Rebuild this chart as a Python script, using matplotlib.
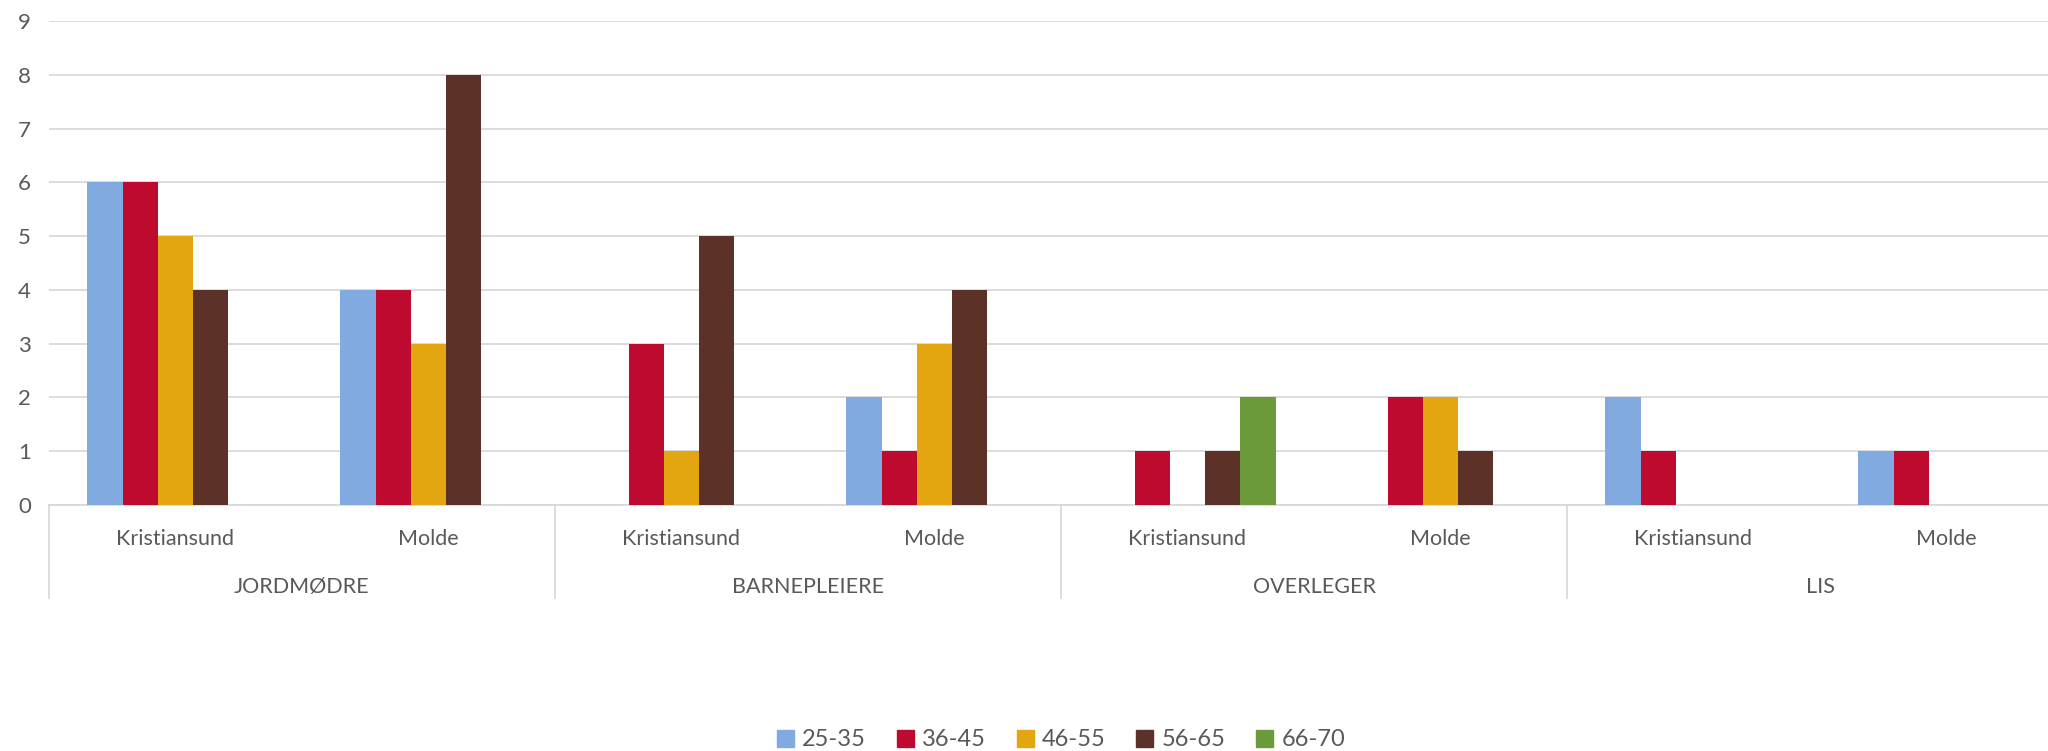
import matplotlib.pyplot as plt
import numpy as np
from matplotlib.patches import Patch

plt.rcParams['font.family'] = ['Lato', 'DejaVu Sans']

groups = ['JORDMØDRE', 'BARNEPLEIERE', 'OVERLEGER', 'LIS']
places = ['Kristiansund', 'Molde']
series = ['25-35', '36-45', '46-55', '56-65', '66-70']

# en verdi per (gruppe, sted): JK, JM, BK, BM, OK, OM, LK, LM
v_25_35 = [6, 4, 0, 2, 0, 0, 2, 1]
v_36_45 = [6, 4, 3, 1, 1, 2, 1, 1]
v_46_55 = [5, 3, 1, 3, 0, 2, 0, 0]
v_56_65 = [4, 8, 5, 4, 1, 1, 0, 0]
v_66_70 = [0, 0, 0, 0, 2, 0, 0, 0]
values = [v_25_35, v_36_45, v_46_55, v_56_65, v_66_70]

colors = ['#80AAE0', '#BE0A2E', '#E3A611', '#5C3128', '#6A9A3A']
grid_c = '#D9D9D9'
txt_c = '#595959'

W, H = 2048, 751
fig = plt.figure(figsize=(W / 100, H / 100), dpi=100)
# akseomraadet gaar litt forbi hoyre kant, som i originalen
x0, x1, y0, y9 = 49, 2073, 505, 21
ax = fig.add_axes([x0 / W, 1 - y0 / H, (x1 - x0) / W, (y0 - y9) / H])

n_cat = len(places) * len(groups)
x = np.arange(n_cat) + 0.5
bw = 0.1395
for i, (s, vals) in enumerate(zip(series, values)):
    off = (i - 2) * bw
    ax.bar(x + off, vals, width=bw, color=colors[i], linewidth=0, zorder=3, label=s)

ax.set_xlim(0, n_cat)
ax.set_ylim(0, 9)
ax.set_yticks(range(10))
ax.yaxis.grid(True, color=grid_c, linewidth=1.3, zorder=0)
ax.set_xticks([])
ax.tick_params(axis='y', length=0, pad=13, labelsize=16, labelcolor=txt_c)
for sp in ['top', 'right', 'left']:
    ax.spines[sp].set_visible(False)
ax.spines['bottom'].set_color(grid_c)
ax.spines['bottom'].set_linewidth(1.3)

ah = y0 - y9
tr = ax.get_xaxis_transform()
for k in range(n_cat):
    ax.text(x[k], (y0 - 539) / ah, places[k % 2], transform=tr, ha='center', va='center',
            fontsize=15.5, color=txt_c)
for g, name in enumerate(groups):
    ax.text(2 * g + 1, (y0 - 587) / ah, name, transform=tr, ha='center', va='center',
            fontsize=15.5, color=txt_c)
for g in range(len(groups) + 1):
    ax.plot([2 * g, 2 * g], [0, (y0 - 598) / ah], transform=tr, color=grid_c,
            linewidth=1.3, clip_on=False)

handles = [Patch(color=c, label=s) for c, s in zip(colors, series)]
ax.legend(handles=handles, loc='center', bbox_to_anchor=(0.5, (y0 - 740) / ah), ncol=5,
          frameon=False, fontsize=17, labelcolor=txt_c, handlelength=0.72, handleheight=0.72,
          handletextpad=0.35, columnspacing=1.3)

fig.savefig('out.png', dpi=100)
